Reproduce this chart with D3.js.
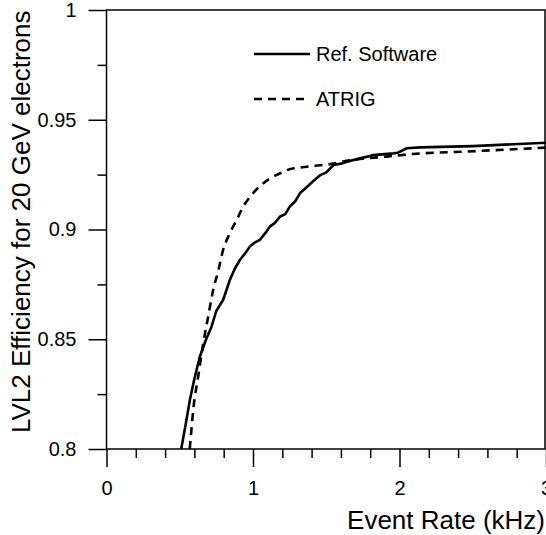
<!DOCTYPE html>
<html>
<head>
<meta charset="utf-8">
<script src="https://cdn.jsdelivr.net/npm/d3@7"></script>
<style>
  body { margin: 0; background: #fff; }
  svg { display: block; font-family: "Liberation Sans", Arial, sans-serif; }
</style>
</head>
<body>
<div id="chart"></div>
<script>
// values
var refSoftware = [
  [0.51, 0.800], [0.54, 0.811], [0.569, 0.8223], [0.60, 0.832], [0.637, 0.842],
  [0.68, 0.850], [0.717, 0.8557], [0.75, 0.863], [0.796, 0.8679], [0.842, 0.877],
  [0.875, 0.882], [0.91, 0.8861], [0.945, 0.889], [0.978, 0.8922], [1.01, 0.894],
  [1.046, 0.8952], [1.08, 0.898], [1.115, 0.9013], [1.15, 0.903], [1.183, 0.9058],
  [1.22, 0.907], [1.251, 0.9104], [1.29, 0.913], [1.32, 0.9165], [1.37, 0.9195],
  [1.41, 0.922], [1.46, 0.9248], [1.50, 0.926], [1.55, 0.9294], [1.60, 0.930],
  [1.64, 0.9309], [1.73, 0.9324], [1.80, 0.9335], [1.82, 0.9339], [1.96, 0.9347],
  [1.99, 0.935], [2.05, 0.937], [2.14, 0.9374], [2.50, 0.938], [3.00, 0.9395]
];

var atrig = [
  [0.568, 0.800], [0.58, 0.809], [0.592, 0.8178], [0.626, 0.833], [0.66, 0.848],
  [0.694, 0.8603], [0.728, 0.8724], [0.762, 0.881], [0.796, 0.8907], [0.842, 0.8983],
  [0.888, 0.9043], [0.933, 0.9104], [0.99, 0.9157], [1.069, 0.921], [1.11, 0.923],
  [1.16, 0.9248], [1.20, 0.926], [1.25, 0.9275], [1.30, 0.928], [1.365, 0.9286],
  [1.478, 0.9294], [1.55, 0.930], [1.637, 0.9313], [1.774, 0.9324], [1.91, 0.9332],
  [2.09, 0.9344], [2.45, 0.9355], [3.00, 0.9373]
];

var xMajor = [0, 1, 2, 3];
var xMinor = [0.2, 0.4, 0.6, 0.8, 1.2, 1.4, 1.6, 1.8, 2.2, 2.4, 2.6, 2.8];
var yMajor = [0.8, 0.85, 0.9, 0.95, 1];
var yMinor = [0.825, 0.875, 0.925, 0.975];
var yLabels = ["0.8", "0.85", "0.9", "0.95", "1"];

var W = 546, H = 535;
var svg = d3.select("#chart").append("svg").attr("width", W).attr("height", H);

var x = d3.scaleLinear().domain([0, 3]).range([106.5, 546]);
var y = d3.scaleLinear().domain([0.8, 1]).range([449, 10]);

// clip the curves to the plot area
svg.append("clipPath").attr("id", "plot")
  .append("rect").attr("x", 106.5).attr("y", 10).attr("width", 440).attr("height", 439);

var line = d3.line().x(function(d){ return x(d[0]); }).y(function(d){ return y(d[1]); });
var smooth = d3.line().curve(d3.curveMonotoneX).x(function(d){ return x(d[0]); }).y(function(d){ return y(d[1]); });

svg.append("path")
  .datum(refSoftware)
  .attr("d", line)
  .attr("clip-path", "url(#plot)")
  .attr("fill", "none")
  .attr("stroke", "black")
  .attr("stroke-width", 2.6)
  .attr("stroke-linejoin", "round");

svg.append("path")
  .datum(atrig)
  .attr("d", smooth)
  .attr("clip-path", "url(#plot)")
  .attr("fill", "none")
  .attr("stroke", "black")
  .attr("stroke-width", 2.6)
  .attr("stroke-dasharray", "8,6");

// axes: bottom
var xAxis = d3.axisBottom(x).tickValues(xMajor).tickSize(18).tickSizeOuter(0).tickFormat(d3.format("d")).tickPadding(14);
var gx = svg.append("g").attr("transform", "translate(0," + y(0.8) + ")").call(xAxis);
gx.select(".domain").remove();
gx.selectAll(".tick line").attr("stroke-width", 1.5);
gx.selectAll("text").attr("font-size", 20).attr("fill", "black").attr("font-family", "Liberation Sans, Arial, sans-serif");

svg.append("g").attr("transform", "translate(0," + y(0.8) + ")")
  .call(d3.axisBottom(x).tickValues(xMinor).tickSize(9).tickFormat(""))
  .call(function(g){ g.select(".domain").remove(); g.selectAll("line").attr("stroke-width", 1.5); });

// axes: left
var yAxis = d3.axisLeft(y).tickValues(yMajor).tickSize(18).tickPadding(12)
  .tickFormat(function(d, i){ return yLabels[i]; });
var gy = svg.append("g").attr("transform", "translate(" + x(0) + ",0)").call(yAxis);
gy.select(".domain").remove();
gy.selectAll(".tick line").attr("stroke-width", 1.5);
gy.selectAll("text").attr("font-size", 20).attr("fill", "black").attr("font-family", "Liberation Sans, Arial, sans-serif");

svg.append("g").attr("transform", "translate(" + x(0) + ",0)")
  .call(d3.axisLeft(y).tickValues(yMinor).tickSize(9).tickFormat(""))
  .call(function(g){ g.select(".domain").remove(); g.selectAll("line").attr("stroke-width", 1.5); });

// frame
svg.append("rect")
  .attr("x", x(0)).attr("y", y(1))
  .attr("width", x(3) - x(0) - 1).attr("height", y(0.8) - y(1))
  .attr("fill", "none").attr("stroke", "black").attr("stroke-width", 1.5);

// axis titles
svg.append("text")
  .attr("x", 545).attr("y", 529)
  .attr("text-anchor", "end")
  .attr("font-size", 26)
  .text("Event Rate (kHz)");

svg.append("text")
  .attr("transform", "translate(30,433) rotate(-90)")
  .attr("text-anchor", "start")
  .attr("font-size", 26)
  .text("LVL2 Efficiency for 20 GeV electrons");

// legend
var legend = [
  { name: "Ref. Software", dash: null, ly: 54 },
  { name: "ATRIG", dash: "8,6", ly: 99 }
];
var lg = svg.append("g").selectAll("g").data(legend).enter().append("g");
lg.append("line")
  .attr("x1", 254).attr("x2", 310)
  .attr("y1", function(d){ return d.ly; }).attr("y2", function(d){ return d.ly; })
  .attr("stroke", "black").attr("stroke-width", 2.6)
  .attr("stroke-dasharray", function(d){ return d.dash; });
lg.append("text")
  .attr("x", 316).attr("y", function(d){ return d.ly + 7; })
  .attr("font-size", 20)
  .text(function(d){ return d.name; });
</script>
</body>
</html>
